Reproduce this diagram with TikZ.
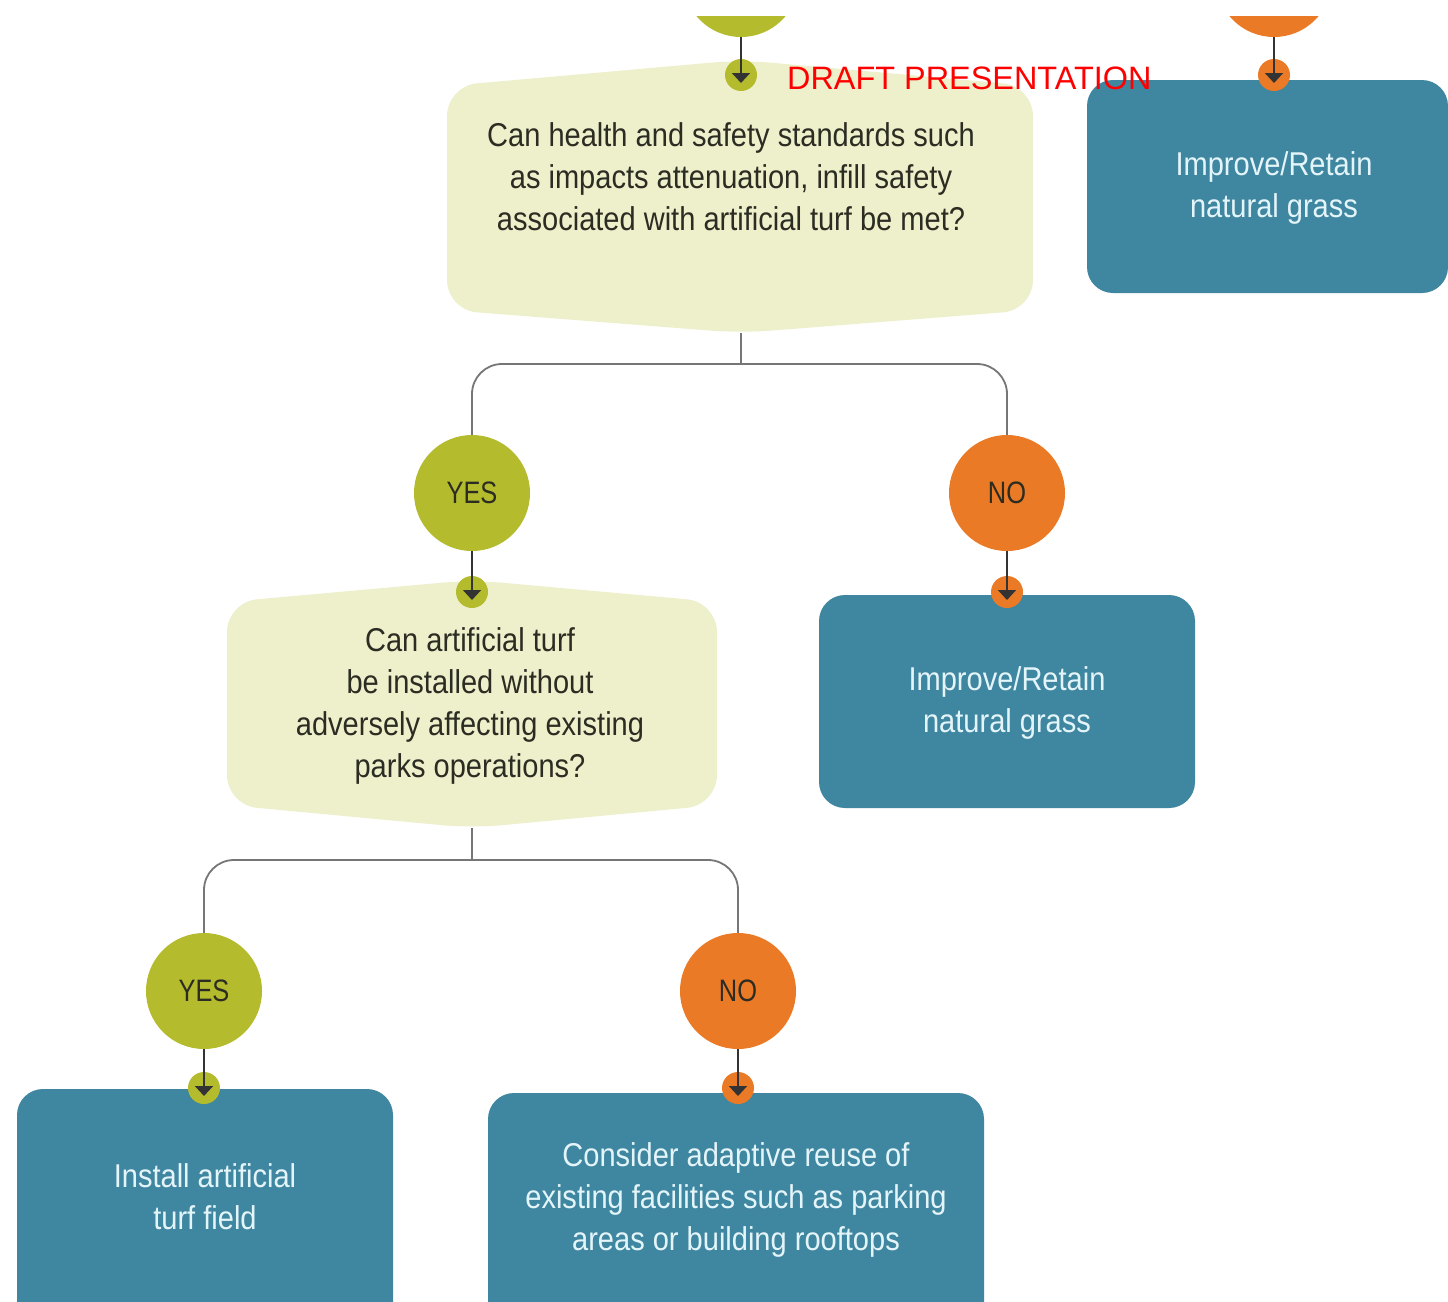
\documentclass[tikz,border=0pt]{standalone}
\usepackage{fontspec}
\setmainfont{Liberation Sans}[FakeStretch=0.88]
\newfontfamily\circfont{Liberation Sans}[FakeStretch=0.82]
\newfontfamily\draftfont{Liberation Sans}
\usetikzlibrary{arrows.meta}
\definecolor{ygreen}{HTML}{B4BC2E}
\definecolor{orng}{HTML}{EA7A26}
\definecolor{tealbox}{HTML}{3F86A0}
\definecolor{decfill}{HTML}{EEF0CC}
\definecolor{boxtext}{HTML}{E4F5FA}
\definecolor{qtext}{HTML}{2C2C22}
\definecolor{linegray}{HTML}{767676}
\tikzset{
  bigtxt/.style={font=\fontsize{33}{42}\selectfont},
  circtxt/.style={font=\circfont\fontsize{31}{36}\selectfont},
  yesc/.style={circle,fill=ygreen,minimum size=116pt,inner sep=0pt,text=qtext,circtxt},
  noc/.style={circle,fill=orng,minimum size=116pt,inner sep=0pt,text=qtext,circtxt},
  gdot/.style={circle,fill=ygreen,minimum size=32pt,inner sep=0pt},
  odot/.style={circle,fill=orng,minimum size=32pt,inner sep=0pt},
  qtxt/.style={align=center,text=qtext,bigtxt,inner sep=0pt},
  btxt/.style={align=center,text=boxtext,bigtxt,inner sep=0pt},
  tbox/.style={fill=tealbox,rounded corners=26pt},
  decshape/.style={fill=decfill,rounded corners=30pt},
  branch/.style={draw=linegray,line width=1.8pt,rounded corners=30pt},
  stub/.style={draw=linegray,line width=1.8pt},
  feed/.style={draw=black!80,line width=1.8pt,-{Triangle[width=18pt,length=10pt]},shorten >=-8pt},
}
\begin{document}
\begin{tikzpicture}[x=1pt,y=-1pt]
\useasboundingbox (0,0) rectangle (1448,1301);
\fill[white] (0,0) rectangle (1448,1301);
\begin{scope}
\clip (0,0) rectangle (1448,1301);

% decision shapes
\fill[decshape] (741,60) -- (1033,86) -- (1033,310) -- (741,333) -- (447,310) -- (447,86) -- cycle;
\coordinate (q1b) at (741,333);
\coordinate (j1) at (741,364);
\fill[decshape] (472,580) -- (717,602) -- (717,805) -- (472,828) -- (227,805) -- (227,602) -- cycle;
\coordinate (q2b) at (472,828);
\coordinate (j2) at (472,860);

% teal boxes
\fill[tbox] (1087,80) rectangle (1448,293);
\fill[tbox] (819,595) rectangle (1195,808);
\fill[tbox] (17,1089) rectangle (393,1330);
\fill[tbox] (488,1093) rectangle (984,1330);

% top circles (cut by the top edge)
\begin{scope}
\clip (0,16) rectangle (1448,1301);
\node[yesc] (g0) at (741,-21) {};
\node[noc] (o0) at (1274,-21) {};
\end{scope}

% circles
\node[yesc] (yes1) at (472,493) {YES};
\node[noc] (no1) at (1007,493) {NO};
\node[yesc] (yes2) at (204,991) {YES};
\node[noc] (no2) at (738,991) {NO};

% dots
\node[gdot] (d1) at (741,75) {};
\node[odot] (d0) at (1274,75) {};
\node[gdot] (d2) at (472,592) {};
\node[odot] (d3) at (1007,592) {};
\node[gdot] (d4) at (204,1088) {};
\node[odot] (d5) at (738,1088) {};

% texts
\node[qtxt] (q1) at (731,177) {Can health and safety standards such\\as impacts attenuation, infill safety\\associated with artificial turf be met?};
\node[qtxt] (q2) at (470,706) {Can artificial turf\\be installed without\\adversely affecting existing\\parks operations?};
\node[btxt] (b0) at (1274,188) {Improve/Retain\\natural grass};
\node[btxt] (b1) at (1007,703) {Improve/Retain\\natural grass};
\node[btxt] (b2) at (205,1197) {Install artificial\\turf field};
\node[btxt] (b3) at (736,1200) {Consider adaptive reuse of\\existing facilities such as parking\\areas or building rooftops};

% branch connectors
\draw[stub] (q1b) -- (j1);
\draw[branch] (yes1) |- (j1) -| (no1);
\draw[stub] (q2b) -- (j2);
\draw[branch] (yes2) |- (j2) -| (no2);

% feed arrows
\draw[feed] (g0) -- (d1.center);
\draw[feed] (o0) -- (d0.center);
\draw[feed] (yes1) -- (d2.center);
\draw[feed] (no1) -- (d3.center);
\draw[feed] (yes2) -- (d4.center);
\draw[feed] (no2) -- (d5.center);
\end{scope}

\node[anchor=base west,text=red,font=\draftfont\fontsize{32.4}{38}\selectfont,inner sep=0pt] (draft) at (787,89) {DRAFT PRESENTATION};
\end{tikzpicture}
\end{document}
